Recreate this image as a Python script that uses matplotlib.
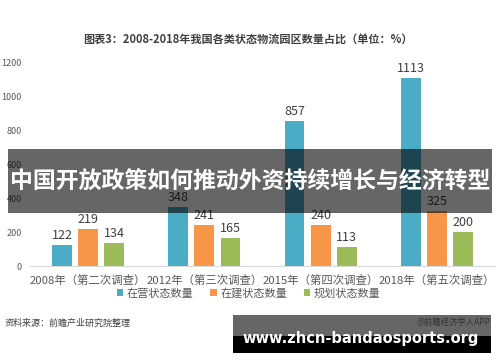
import matplotlib
matplotlib.use("Agg")
import matplotlib.pyplot as plt
import numpy as np
from matplotlib.patches import Rectangle

plt.rcParams['font.family'] = ['Noto Sans CJK SC', 'DejaVu Sans']

categories = ["2008年（第二次调查）", "2012年（第三次调查）", "2015年（第四次调查）", "2018年（第五次调查）"]
operating = [122, 348, 857, 1113]
building = [219, 241, 240, 325]
planned = [134, 165, 113, 200]
series_names = ["在营状态数量", "在建状态数量", "规划状态数量"]
colors = ["#4bacc6", "#f79646", "#9bbb59"]

W, H = 500, 362
fig = plt.figure(figsize=(5, 3.62), dpi=100)
ax = fig.add_axes([30 / W, 96 / H, 465 / W, 203 / H])

x = np.arange(len(categories))
width = 0.17
step = 0.224
for i, (vals, name, c) in enumerate(zip([operating, building, planned], series_names, colors)):
    bars = ax.bar(x + (i - 1) * step, vals, width, color=c, label=name)
    for b, v in zip(bars, vals):
        ax.text(b.get_x() + b.get_width() / 2, v + 18, str(v), ha="center", va="bottom",
                fontsize=9, color="#404040")

ax.set_xlim(-0.5, 3.5)
ax.set_ylim(0, 1200)
ax.set_yticks(range(0, 1201, 200))
ax.set_xticks(x)
ax.set_xticklabels(categories, fontsize=8.2, color="#595959")
ax.tick_params(axis="y", length=0, labelsize=6.5, labelcolor="#595959", pad=6)
ax.tick_params(axis="x", length=0, pad=6)
for s in ["top", "right", "left"]:
    ax.spines[s].set_visible(False)
ax.spines["bottom"].set_color("#d9d9d9")

ax.legend(loc="center", bbox_to_anchor=(0.47, -0.135), ncol=3, frameon=False,
          fontsize=8, handlelength=0.6, handleheight=0.6, columnspacing=1.5,
          handletextpad=0.3, labelcolor="#595959")

fig.text(248 / W, 1 - 40 / H, "图表3：2008-2018年我国各类状态物流园区数量占比（单位：%）",
         ha="center", va="center", fontsize=8, fontweight="bold", color="#404040")
fig.text(5 / W, 1 - 323 / H, "资料来源：前瞻产业研究院整理", ha="left", va="center",
         fontsize=6.5, style="italic", color="#404040")

# dark banner across the chart
fig.patches.append(Rectangle((8 / W, 1 - 213 / H), 484 / W, 64 / H, transform=fig.transFigure,
                             facecolor="black", alpha=0.6, zorder=10))
fig.text(250 / W, 1 - 182 / H, "中国开放政策如何推动外资持续增长与经济转型", ha="center", va="center",
         fontsize=16.5, fontweight="bold", color="white", zorder=11)

# bottom-right watermark box
fig.patches.append(Rectangle((233 / W, 1 - 353 / H), 258 / W, 38 / H, transform=fig.transFigure,
                             facecolor="black", alpha=0.6, zorder=10))
fig.patches.append(Rectangle((233 / W, 1 - 353 / H), 258 / W, 17 / H, transform=fig.transFigure,
                             facecolor="black", zorder=10))
fig.text(490 / W, 1 - 322 / H, "@前瞻经济学人APP", ha="right", va="center",
         fontsize=6, color="#333333", zorder=11)
fig.text(361 / W, 1 - 338 / H, "www.zhcn-bandaosports.org", ha="center", va="center",
         fontsize=10.5, fontweight="bold", color="white", family="DejaVu Sans", zorder=11)

fig.savefig("out.png", dpi=100)
